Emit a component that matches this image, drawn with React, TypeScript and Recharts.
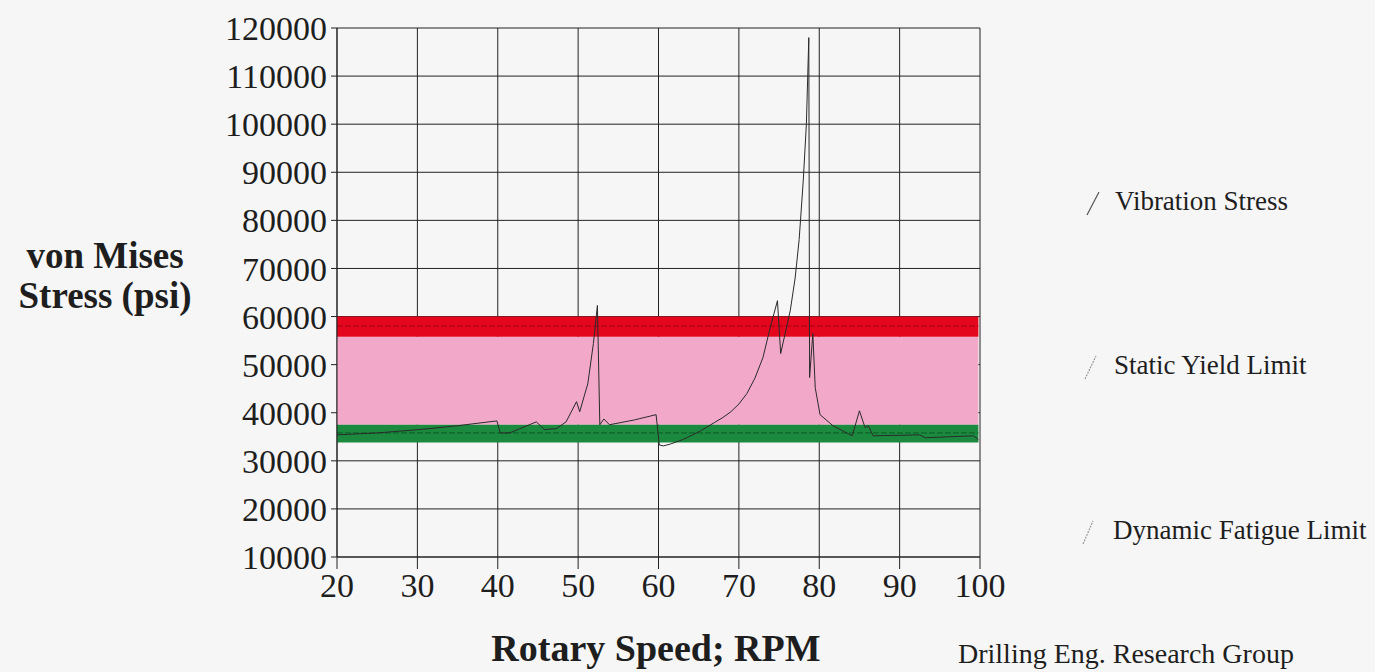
import {
  ComposedChart,
  Line,
  XAxis,
  YAxis,
  CartesianGrid,
  ReferenceArea,
  ReferenceLine,
} from 'recharts';

// Vibration stress vs rotary speed.
const RPM = [
  20, 25, 30.3, 35, 39.9, 40.3, 41.5, 44.8, 45.8, 47.3, 48.5, 49.8, 50.2, 50.8,
  51.2, 51.9, 52.4, 52.7, 53.2, 53.9, 57, 59.7, 60.1, 60.6, 61.5, 63, 64, 65.2,
  66, 67, 68, 69, 70, 71, 72, 73, 73.9, 74.8, 75.2, 76.4, 77, 77.5, 78, 78.4,
  78.7, 78.8, 79.2, 79.5, 80.1, 81.7, 84.1, 85, 85.7, 86.1, 86.7, 92.5, 93.2,
  99.2, 99.8,
];
const STRESS = [
  35400, 35800, 36500, 37300, 38300, 35800, 35800, 38100, 36500, 36700, 38100,
  42300, 40200, 43700, 46000, 54400, 62300, 37500, 38700, 37500, 38500, 39600,
  33300, 33100, 33500, 34400, 35200, 36200, 37000, 38000, 39000, 40200, 41800,
  44000, 47200, 51500, 57700, 63300, 52300, 61300, 68000, 76000, 88000, 100000,
  118000, 47300, 56500, 45200, 39600, 37300, 35200, 40400, 36900, 37300, 35200,
  35400, 34800, 35200, 34400,
];

const X_TICKS = [20, 30, 40, 50, 60, 70, 80, 90, 100];
const Y_TICKS = [
  10000, 20000, 30000, 40000, 50000, 60000, 70000, 80000, 90000, 100000,
  110000, 120000,
];

// limit bands (psi)
const YIELD_BAND = [55800, 60000];
const YIELD_LINE = 58000;
const SAFE_ZONE = [37500, 55800];
const FATIGUE_BAND = [33800, 37500];
const FATIGUE_LINE = 35800;
const BAND_END = 99.8;

const LEGEND_ITEMS = ['Vibration Stress', 'Static Yield Limit', 'Dynamic Fatigue Limit'];

const FONT = '"Liberation Serif", "Times New Roman", serif';
const INK = '#1e1e1e';

const data = RPM.map((rpm, i) => ({ rpm, stress: STRESS[i] }));

// Legend sits well to the right of the plot, one entry per band of the page.
function SideLegend() {
  const rows = [
    { top: 186, dash: undefined, color: '#555' },
    { top: 350, dash: '2 1', color: '#999' },
    { top: 515, dash: '2 1', color: '#999' },
  ];
  return (
    <>
      {LEGEND_ITEMS.map((name, i) => (
        <div
          key={name}
          style={{
            position: 'absolute',
            left: 1078,
            top: rows[i].top,
            display: 'flex',
            alignItems: 'center',
            whiteSpace: 'nowrap',
          }}
        >
          <svg width={30} height={30}>
            <line
              x1={9 - i * 2}
              y1={28}
              x2={21 - i * 3}
              y2={5}
              stroke={rows[i].color}
              strokeWidth={1.2}
              strokeDasharray={rows[i].dash}
            />
          </svg>
          <span style={{ marginLeft: 7 - i, fontFamily: FONT, fontSize: 27, color: INK }}>{name}</span>
        </div>
      ))}
    </>
  );
}

export default function App() {
  return (
    <div
      style={{
        position: 'absolute',
        left: 0,
        top: 0,
        width: 1375,
        height: 672,
        background: '#f6f6f6',
        fontFamily: FONT,
        color: INK,
        overflow: 'hidden',
      }}
    >
      <ComposedChart
        width={1375}
        height={672}
        data={data}
        margin={{ top: 28, right: 395, bottom: 85, left: 0 }}
      >
        <ReferenceArea x1={20} x2={BAND_END} y1={SAFE_ZONE[0]} y2={SAFE_ZONE[1]} fill="#f2a9c9" fillOpacity={1} stroke="none" />
        <ReferenceArea x1={20} x2={BAND_END} y1={YIELD_BAND[0]} y2={YIELD_BAND[1]} fill="#e3061c" fillOpacity={1} stroke="none" />
        <ReferenceArea x1={20} x2={BAND_END} y1={FATIGUE_BAND[0]} y2={FATIGUE_BAND[1]} fill="#1b8a3e" fillOpacity={1} stroke="none" />
        <ReferenceLine segment={[{ x: 20, y: YIELD_LINE }, { x: BAND_END, y: YIELD_LINE }]} stroke="#a3001a" strokeWidth={1} strokeDasharray="6 2" />
        <ReferenceLine segment={[{ x: 20, y: FATIGUE_LINE }, { x: BAND_END, y: FATIGUE_LINE }]} stroke="#0b5a26" strokeWidth={1} strokeDasharray="6 2" />
        <CartesianGrid stroke="#222" strokeWidth={1} horizontalValues={Y_TICKS} verticalValues={X_TICKS} />
        <XAxis
          dataKey="rpm"
          type="number"
          domain={[20, 100]}
          ticks={X_TICKS}
          height={30}
          tickSize={12}
          tickMargin={4}
          stroke="#222"
          tick={{ fontSize: 34, fill: INK, fontFamily: FONT }}
          interval={0}
        />
        <YAxis
          type="number"
          domain={[10000, 120000]}
          ticks={Y_TICKS}
          width={337}
          tickSize={6}
          tickMargin={4}
          stroke="#222"
          tick={{ fontSize: 34, fill: INK, fontFamily: FONT }}
          interval={0}
        />
        <Line
          type="linear"
          dataKey="stress"
          stroke="#2a2a2a"
          strokeWidth={1}
          dot={false}
          isAnimationActive={false}
        />
      </ComposedChart>

      <SideLegend />

      <div style={{ position: 'absolute', left: 0, top: 236, width: 210, textAlign: 'center', fontWeight: 'bold', fontSize: 37, lineHeight: '40px' }}>
        von Mises
        <br />
        Stress (psi)
      </div>
      <div style={{ position: 'absolute', left: 456, top: 626, width: 400, textAlign: 'center', fontWeight: 'bold', fontSize: 38 }}>
        Rotary Speed; RPM
      </div>
      <div style={{ position: 'absolute', left: 958, top: 638, fontSize: 28, whiteSpace: 'nowrap' }}>
        Drilling Eng. Research Group
      </div>
    </div>
  );
}
